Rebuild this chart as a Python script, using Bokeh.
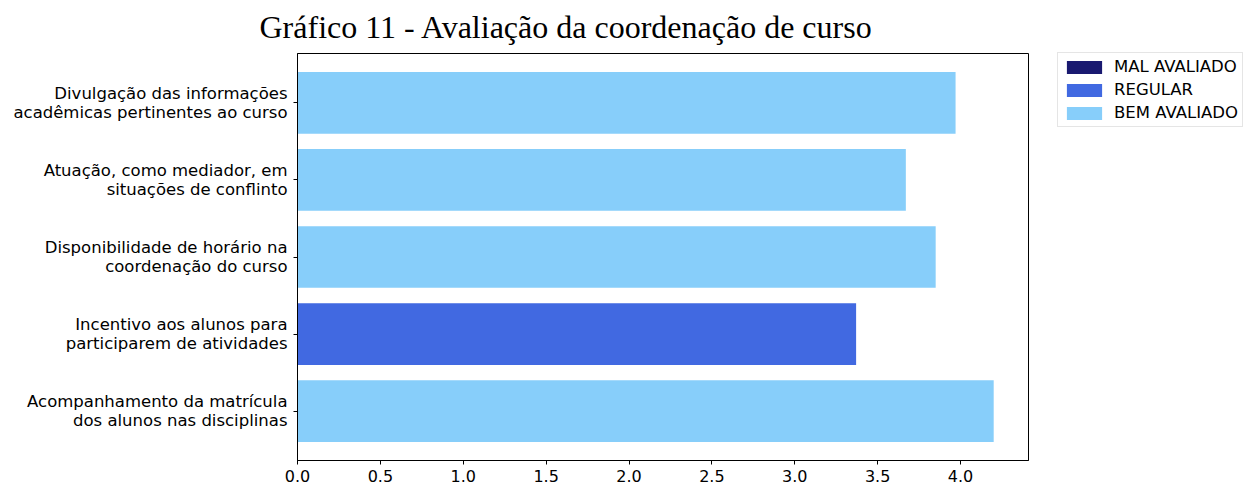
from bokeh.plotting import figure
from bokeh.models import ColumnDataSource, Range1d, FixedTicker, Legend, LegendItem, NumeralTickFormatter
from bokeh.embed import file_html
from bokeh.resources import INLINE

title_text = "Gráfico 11 - Avaliação da coordenação de curso"
categories = [
    "Acompanhamento da matrícula\ndos alunos nas disciplinas",
    "Incentivo aos alunos para\nparticiparem de atividades",
    "Disponibilidade de horário na\ncoordenação do curso",
    "Atuação, como mediador, em\nsituações de conflinto",
    "Divulgação das informações\nacadêmicas pertinentes ao curso",
]
values = [4.20, 3.37, 3.85, 3.67, 3.97]
classes = ["BEM AVALIADO", "REGULAR", "BEM AVALIADO", "BEM AVALIADO", "BEM AVALIADO"]
legend_labels = ["MAL AVALIADO", "REGULAR", "BEM AVALIADO"]
legend_colors = ["#191970", "#4169E1", "#87CEFA"]
x_ticks = [0.0, 0.5, 1.0, 1.5, 2.0, 2.5, 3.0, 3.5, 4.0]

p = figure(frame_width=731, frame_height=407, output_backend="svg", toolbar_location=None,
           x_range=Range1d(0, 4.41), y_range=Range1d(-0.64, 4.64),
           min_border_left=297, min_border_right=209, min_border_top=53, min_border_bottom=26)

items = []
for lab, col in zip(legend_labels, legend_colors):
    ys = [i for i, c in enumerate(classes) if c == lab]
    rights = [values[i] for i in ys]
    if not ys:
        # category with no bars: zero-width placeholder so the legend swatch is drawn
        ys, rights = [0], [0]
    src = ColumnDataSource(dict(y=ys, right=rights))
    r = p.hbar(y="y", right="right", left=0, height=0.8, source=src,
               fill_color=col, line_color=None)
    items.append(LegendItem(label=lab, renderers=[r]))

legend = Legend(items=items, location=(29, 333), margin=0,
                label_text_font="DejaVu Sans", label_text_font_size="16.5px",
                label_text_color="black", label_height=16,
                glyph_width=44, glyph_height=16, spacing=4, padding=4,
                border_line_color="#cccccc", border_line_width=1,
                label_standoff=8)
p.add_layout(legend, "right")

p.title.text = title_text
p.title.text_font = "Liberation Serif"
p.title.text_font_size = "32px"
p.title.text_font_style = "normal"
p.title.text_color = "black"
p.title.align = "left"
p.title.vertical_align = "top"
p.title.offset = -38
p.title.standoff = 13

p.xgrid.visible = False
p.ygrid.visible = False
p.outline_line_color = "black"
p.outline_line_alpha = 1

p.xaxis.ticker = FixedTicker(ticks=x_ticks)
p.xaxis.formatter = NumeralTickFormatter(format="0.0")
p.yaxis.ticker = FixedTicker(ticks=list(range(len(categories))))
p.yaxis.major_label_overrides = {i: c for i, c in enumerate(categories)}
for ax in (p.xaxis, p.yaxis):
    ax.major_label_text_font = "DejaVu Sans"
    ax.major_label_text_color = "black"
    ax.axis_line_color = "black"
    ax.major_tick_line_color = "black"
    ax.major_tick_in = 0
    ax.major_tick_out = 4
    ax.minor_tick_line_color = None
p.yaxis.major_label_text_font_size = "16.5px"
p.yaxis.major_label_text_line_height = 1.0
p.xaxis.major_label_text_font_size = "16px"
p.yaxis.major_label_standoff = 6
p.xaxis.major_label_standoff = 5

open("out.html", "w").write(file_html(p, INLINE))
